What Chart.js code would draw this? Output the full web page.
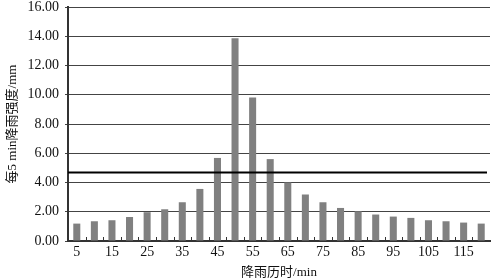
<!DOCTYPE html>
<html>
<head>
<meta charset="utf-8">
<script src="https://cdn.jsdelivr.net/npm/chart.js@4/dist/chart.umd.min.js"></script>
<style>
  html, body { margin: 0; padding: 0; background: #fff; }
  #wrap { width: 494px; height: 280px; }
</style>
</head>
<body>
<div id="wrap"><canvas id="c"></canvas></div>
<script>
// rainfall duration (min) and 5-min intensity (mm)
const durations = [5, 10, 15, 20, 25, 30, 35, 40, 45, 50, 55, 60,
                   65, 70, 75, 80, 85, 90, 95, 100, 105, 110, 115, 120];
const intensity = [1.19, 1.35, 1.42, 1.64, 1.97, 2.17, 2.65, 3.56, 5.68, 13.86, 9.82, 5.60,
                   4.00, 3.18, 2.65, 2.26, 2.03, 1.81, 1.67, 1.58, 1.42, 1.35, 1.26, 1.19];
const averageLevel = 4.68;
const yTicks = [0, 2, 4, 6, 8, 10, 12, 14, 16];

// black horizontal mean line + inner tick marks between categories
const overlay = {
    id: 'overlay',
    afterDatasetsDraw(chart) {
        const { ctx, chartArea, scales } = chart;
        const y = scales.y.getPixelForValue(averageLevel);
        ctx.save();
        ctx.strokeStyle = '#000';
        ctx.lineWidth = 2;
        ctx.beginPath();
        ctx.moveTo(chartArea.left, y);
        ctx.lineTo(chartArea.right - 3, y);
        ctx.stroke();

        ctx.strokeStyle = '#333';
        ctx.lineWidth = 1;
        const base = scales.y.getPixelForValue(0);
        for (let i = 1; i < durations.length; i++) {
            const x = Math.round((scales.x.getPixelForTick(i - 1) + scales.x.getPixelForTick(i)) / 2) + 0.5;
            ctx.beginPath();
            ctx.moveTo(x, base);
            ctx.lineTo(x, base - 4);
            ctx.stroke();
        }
        ctx.restore();
    }
};

new Chart(document.getElementById('c'), {
    type: 'bar',
    data: {
        labels: durations,
        datasets: [{
            data: intensity,
            backgroundColor: '#808080',
            barPercentage: 0.4,
            categoryPercentage: 1.0
        }]
    },
    options: {
        responsive: true,
        maintainAspectRatio: false,
        animation: false,
        layout: { padding: { top: 7, right: 4, left: 0, bottom: 0 } },
        plugins: { legend: { display: false }, tooltip: { enabled: false } },
        scales: {
            x: {
                grid: { display: false, drawTicks: false },
                border: { display: true, color: '#333', width: 2 },
                ticks: {
                    autoSkip: false,
                    maxRotation: 0,
                    padding: 3,
                    color: '#111',
                    font: { family: 'Liberation Serif', size: 14 },
                    callback: (v, i) => (i % 2 === 0 ? durations[i] : '')
                },
                title: {
                    display: true,
                    text: '降雨历时/min',
                    color: '#111',
                    padding: { top: 0, bottom: 0 },
                    font: { family: 'Liberation Serif, Noto Sans CJK SC', size: 13 }
                },
                afterFit: s => { s.height = 39; s.paddingLeft = 0; s.paddingRight = 0; }
            },
            y: {
                min: yTicks[0],
                max: yTicks[yTicks.length - 1],
                grid: { color: '#444', lineWidth: 1, tickLength: 3 },
                border: { display: true, color: '#333', width: 2 },
                ticks: {
                    stepSize: yTicks[1] - yTicks[0],
                    padding: 6,
                    color: '#111',
                    font: { family: 'Liberation Serif', size: 14 },
                    callback: v => v.toFixed(2)
                },
                title: {
                    display: true,
                    text: '每5 min降雨强度/mm',
                    color: '#111',
                    padding: { top: 5, bottom: 3 },
                    font: { family: 'Liberation Serif, Noto Sans CJK SC', size: 13 }
                },
                afterFit: s => { s.width = 68; s.paddingTop = 0; s.paddingBottom = 0; }
            }
        }
    },
    plugins: [overlay]
});
</script>
</body>
</html>
